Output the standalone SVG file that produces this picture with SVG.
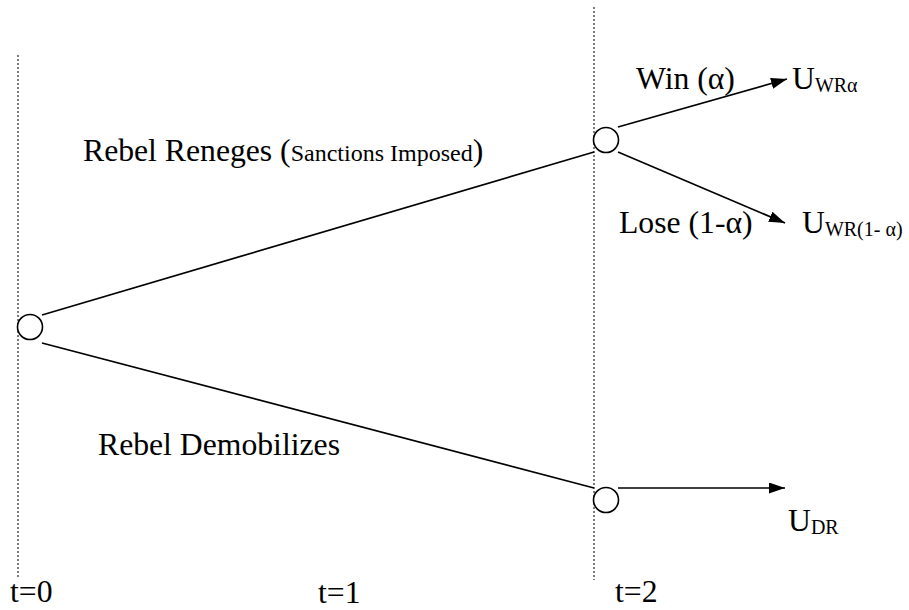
<svg xmlns="http://www.w3.org/2000/svg" width="909" height="610" viewBox="0 0 909 610">
<defs>
<marker id="arr" viewBox="0 0 16 11" refX="16" refY="5.5" markerWidth="16" markerHeight="11" markerUnits="userSpaceOnUse" orient="auto"><path d="M0,0 L16,5.5 L0,11 z" fill="#000"/></marker>
<style>
text{font-family:"Liberation Serif","Times New Roman",serif;fill:#000;font-size:31.7px}
.sm{font-size:24px}
.sub{font-size:20px}
.node{fill:#fff;stroke:#000;stroke-width:1.6}
.edge{stroke:#000;stroke-width:1.7;fill:none}
.time{stroke:#444;stroke-width:1.4;stroke-dasharray:2 2;fill:none}
</style>
</defs>
<rect width="909" height="610" fill="#fff"/>
<g id="timelines">
<line class="time" x1="18" y1="55" x2="18" y2="577"/>
<line class="time" x1="594" y1="7" x2="594" y2="580"/>
</g>
<g id="connectors">
<line class="edge" x1="42" y1="315" x2="594" y2="152"/>
<line class="edge" x1="42" y1="343" x2="594" y2="488"/>
<line class="edge" x1="618" y1="127" x2="787" y2="79" marker-end="url(#arr)"/>
<line class="edge" x1="618" y1="152" x2="785" y2="223" marker-end="url(#arr)"/>
<line class="edge" x1="618" y1="488" x2="785" y2="488" marker-end="url(#arr)"/>
</g>
<g id="n0"><circle class="node" cx="30" cy="327" r="12.5"/></g>
<g id="n1"><circle class="node" cx="606" cy="140" r="12.5"/></g>
<g id="n2"><circle class="node" cx="606" cy="500" r="12.5"/></g>
<g id="labels">
<text x="83" y="161">Rebel Reneges (<tspan class="sm">Sanctions Imposed</tspan>)</text>
<text x="98" y="455">Rebel Demobilizes</text>
<text x="636" y="89">Win (α)</text>
<text x="619" y="233">Lose (1-α)</text>
</g>
<g id="payoffs">
<text x="792" y="89">U<tspan class="sub" dy="3">WRα</tspan></text>
<text x="802" y="233">U<tspan class="sub" dy="3">WR(1- α)</tspan></text>
<text x="788" y="531">U<tspan class="sub" dy="3">DR</tspan></text>
</g>
<g id="times">
<text x="10" y="602">t=0</text>
<text x="318" y="603">t=1</text>
<text x="615" y="602">t=2</text>
</g>
</svg>
